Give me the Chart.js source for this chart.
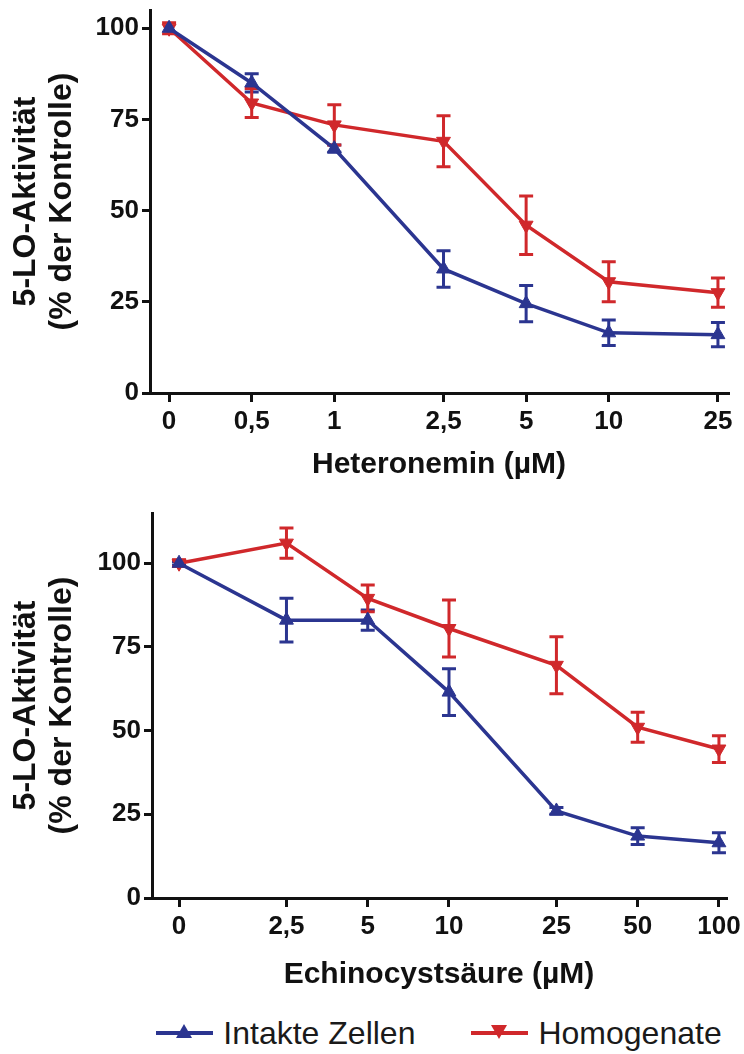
<!DOCTYPE html>
<html>
<head>
<meta charset="utf-8">
<script src="https://cdn.jsdelivr.net/npm/chart.js@4.4.1/dist/chart.umd.min.js"></script>
<style>
  html, body { margin: 0; padding: 0; background: #fff; }
  body { width: 744px; height: 1054px; position: relative; overflow: hidden;
         font-family: 'Liberation Sans', Arial, sans-serif; }
  .box { position: absolute; left: 0; width: 744px; }
  #boxA { top: 0; height: 490px; }
  #boxB { top: 490px; height: 520px; }
  #legend { position: absolute; left: 152px; width: 574px; top: 1012px; height: 42px;
            display: flex; justify-content: center; align-items: center; gap: 56px;
            font-size: 32px; color: #1a1a1a; white-space: nowrap; }
  .item { display: flex; align-items: center; }
  .icon { position: relative; width: 57px; height: 4px; margin-right: 10px; }
  .icon i { position: absolute; left: 20px; width: 0; height: 0;
            border-left: 8px solid transparent; border-right: 8px solid transparent; }
  .up i { top: -7px; border-bottom: 14px solid #2b3590; }
  .down i { top: -6px; border-top: 14px solid #d0282b; }
</style>
</head>
<body>
<div class="box" id="boxA"><canvas id="chartA"></canvas></div>
<div class="box" id="boxB"><canvas id="chartB"></canvas></div>
<div id="legend">
  <div class="item"><span class="icon up" style="background:#2b3590"><i></i></span><span>Intakte Zellen</span></div>
  <div class="item"><span class="icon down" style="background:#d0282b"><i></i></span><span>Homogenate</span></div>
</div>
<script>
const blue = '#2b3590';
const red = '#d0282b';
const ink = '#111';
const family = "'Liberation Sans', Arial, sans-serif";

// Heteronemin panel (0 is plotted one step left of 0,5 on the log axis)
const hetLabels = ['0', '0,5', '1', '2,5', '5', '10', '25'];
const hetPos = [0.25, 0.5, 1, 2.5, 5, 10, 25];
const hetCells = [100, 85, 67, 34, 24.5, 16.5, 16];
const hetCellsErr = [0, 2.5, 1, 5, 5, 3.5, 3.3];
const hetHomog = [100, 79.5, 73.5, 69, 46, 30.5, 27.5];
const hetHomogErr = [1.5, 4, 5.5, 7, 8, 5.5, 4];

// Echinocystsäure panel
const echLabels = ['0', '2,5', '5', '10', '25', '50', '100'];
const echPos = [1, 2.5, 5, 10, 25, 50, 100];
const echCells = [100, 83, 83, 61.5, 26, 18.5, 16.5];
const echCellsErr = [0.5, 6.5, 3, 7, 1, 2.5, 3];
const echHomog = [100, 106, 89.5, 80.5, 69.5, 51, 44.5];
const echHomogErr = [1, 4.5, 4, 8.5, 8.5, 4.5, 4];

const yTicks = [0, 25, 50, 75, 100];

// draws mean +/- error with caps, under the lines
const errorBars = {
  id: 'errorBars',
  beforeDatasetsDraw(chart) {
    const ctx = chart.ctx;
    const ys = chart.scales.y;
    chart.data.datasets.forEach((ds, i) => {
      const meta = chart.getDatasetMeta(i);
      ctx.save();
      ctx.strokeStyle = ds.borderColor;
      ctx.lineWidth = 3;
      meta.data.forEach((pt, j) => {
        const e = ds.errors[j];
        if (!e) return;
        const v = ds.data[j].y;
        const top = ys.getPixelForValue(v + e);
        const bot = ys.getPixelForValue(v - e);
        ctx.beginPath();
        ctx.moveTo(pt.x, top); ctx.lineTo(pt.x, bot);
        ctx.moveTo(pt.x - 7, top); ctx.lineTo(pt.x + 7, top);
        ctx.moveTo(pt.x - 7, bot); ctx.lineTo(pt.x + 7, bot);
        ctx.stroke();
      });
      ctx.restore();
    });
  }
};

function series(label, pos, vals, errs, color, rot) {
  return {
    label: label,
    data: pos.map((x, i) => ({x: x, y: vals[i]})),
    errors: errs,
    borderColor: color,
    backgroundColor: color,
    borderWidth: 3.5,
    pointStyle: 'triangle',
    pointRotation: rot,
    pointRadius: 8,
    pointBorderWidth: 1,
    clip: false
  };
}

function makePanel(id, title, pos, labels, cells, cellsErr, homog, homogErr, xMin, xMax, yMax, frame) {
  return new Chart(document.getElementById(id), {
    type: 'line',
    data: {
      datasets: [
        series('Intakte Zellen', pos, cells, cellsErr, blue, 0),
        series('Homogenate', pos, homog, homogErr, red, 180)
      ]
    },
    plugins: [errorBars],
    options: {
      responsive: true,
      maintainAspectRatio: false,
      animation: false,
      layout: { padding: { top: frame.top, right: frame.right, left: 0, bottom: 0 } },
      plugins: { legend: { display: false }, tooltip: { enabled: false } },
      scales: {
        x: {
          type: 'logarithmic',
          min: xMin,
          max: xMax,
          bounds: 'data',
          afterBuildTicks: s => { s.ticks = pos.map(v => ({value: v})); },
          afterFit: s => { s.height = frame.axisH; s.paddingLeft = 0; s.paddingRight = 0; },
          border: { display: true, color: ink, width: 3 },
          grid: { drawOnChartArea: false, color: ink, lineWidth: 3, tickLength: 9 },
          ticks: {
            autoSkip: false, maxRotation: 0, minRotation: 0, padding: 4, color: ink,
            font: { family: family, size: 26, weight: 'bold' },
            callback: (v, i) => labels[i]
          },
          title: {
            display: true, text: title, color: ink,
            font: { family: family, size: 30, weight: 'bold', lineHeight: 1.2 },
            padding: { top: 0, bottom: frame.titlePad }
          }
        },
        y: {
          min: 0,
          max: yMax,
          afterBuildTicks: s => { s.ticks = yTicks.map(v => ({value: v})); },
          afterFit: s => { s.width = frame.left; s.paddingTop = 0; s.paddingBottom = 0; },
          border: { display: true, color: ink, width: 3 },
          grid: { drawOnChartArea: false, color: ink, lineWidth: 3, tickLength: 8 },
          ticks: { padding: 3, color: ink, font: { family: family, size: 26, weight: 'bold' } },
          title: {
            display: true, text: ['5-LO-Aktivität', '(% der Kontrolle)'], color: ink,
            font: { family: family, size: 32, weight: 'bold', lineHeight: 1.1 },
            padding: { top: 9, bottom: 0 }
          }
        }
      }
    }
  });
}

makePanel('chartA', 'Heteronemin (µM)', hetPos, hetLabels, hetCells, hetCellsErr, hetHomog, hetHomogErr,
  0.213, 27.2, 105, { left: 150, right: 16, top: 10, axisH: 97, titlePad: 7 });
makePanel('chartB', 'Echinocystsäure (µM)', echPos, echLabels, echCells, echCellsErr, echHomog, echHomogErr,
  0.794, 106.2, 115, { left: 152, right: 18, top: 23, axisH: 112, titlePad: 17 });
</script>
</body>
</html>
